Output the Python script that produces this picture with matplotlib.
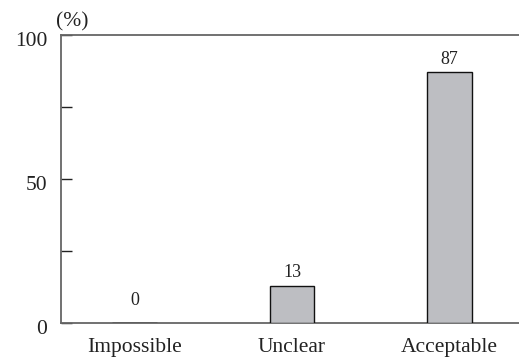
import numpy as np
from matplotlib import pyplot as plt
from matplotlib import transforms

categories = ['Impossible', 'Unclear', 'Acceptable']
percent = [0, 13, 87]
y_major = [0, 50, 100]
y_minor = [25, 75]

plt.rcParams['font.family'] = ['Liberation Serif', 'DejaVu Serif']

fig = plt.figure(figsize=(5.19, 3.6), dpi=100)
ax = fig.add_axes([0.1175, 0.1028, 0.8825, 0.8])

x = np.arange(len(categories))
bars = ax.bar(x, percent, width=0.28, color='#bdbec2', edgecolor='#111111', linewidth=1.0, zorder=3)

# value labels; the zero one sits a bit higher in the original
pads = [10 if v == 0 else 3 for v in percent]
for b, v, p in zip(bars, percent, pads):
    ax.annotate(str(v), (b.get_x() + b.get_width() / 2, v), xytext=(0, p),
                textcoords='offset points', ha='center', va='bottom',
                fontsize=13, color='#222222')

ax.set_xlim(-0.467, 2.441)
ax.set_ylim(0, 100)
ax.set_xticks(x)
ax.set_xticklabels(categories, fontsize=15.5, color='#222222')
ax.set_yticks(y_major)
ax.set_yticklabels([str(t) for t in y_major], fontsize=15.5, color='#222222')
ax.set_yticks(y_minor, minor=True)

ax.tick_params(axis='x', length=0, pad=11)
ax.tick_params(axis='y', which='both', direction='in', length=8, width=1.0,
               color='#222222', pad=10)

# y labels sit a few pixels low in the original
shift = transforms.ScaledTranslation(0, -3 / 72, fig.dpi_scale_trans)
for lbl in ax.get_yticklabels():
    lbl.set_transform(lbl.get_transform() + shift)

for side in ['left', 'bottom', 'top']:
    ax.spines[side].set_color('#666666')
    ax.spines[side].set_linewidth(1.3)
ax.spines['right'].set_visible(False)

ax.text(-0.01, 1.012, '(%)', transform=ax.transAxes, fontsize=15.5,
        ha='left', va='bottom', color='#222222')

fig.savefig('out.png', dpi=100)
